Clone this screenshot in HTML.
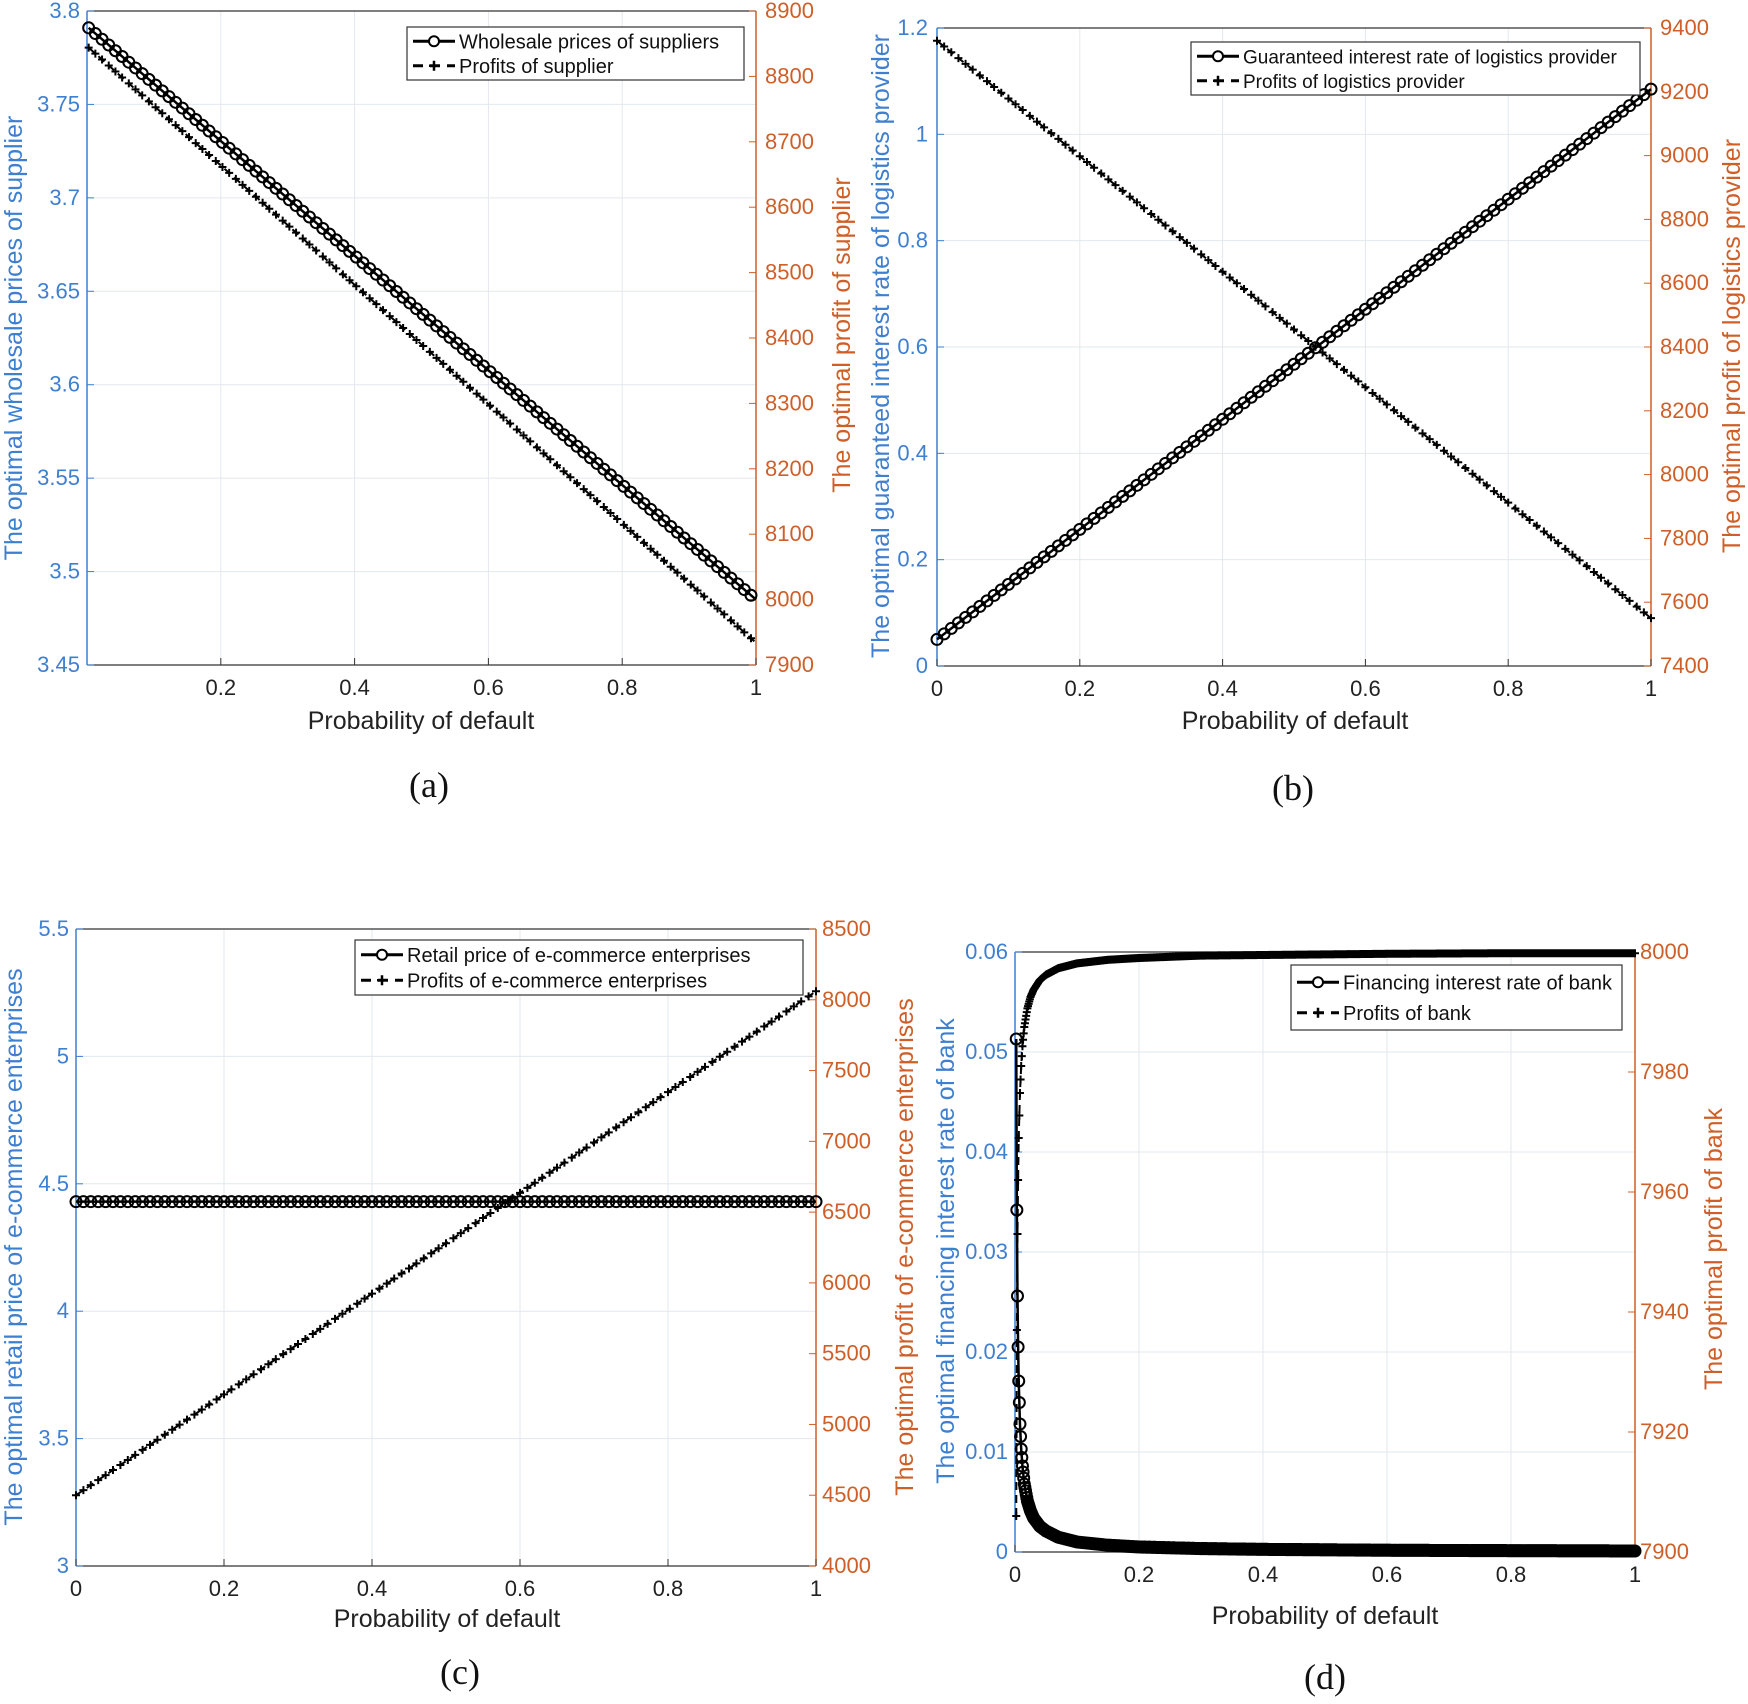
<!DOCTYPE html>
<html><head><meta charset="utf-8"><style>
html,body{margin:0;padding:0;background:#fff;}
svg{display:block;font-family:"Liberation Sans",Arial,sans-serif;}
</style></head><body>
<svg id="fig" width="1748" height="1704" viewBox="0 0 1748 1704" xmlns="http://www.w3.org/2000/svg"></svg>
<script>
// ---- Panel (a) data ----
const aX = [0.0025, 1];
const aWholesale = [3.791, 3.485];
const aProfit = [8844, 7934];
const aLeftTicks = [3.45, 3.5, 3.55, 3.6, 3.65, 3.7, 3.75, 3.8];
const aRightTicks = [7900, 8000, 8100, 8200, 8300, 8400, 8500, 8600, 8700, 8800, 8900];
const aXTicks = [0.2, 0.4, 0.6, 0.8, 1];
// ---- Panel (b) data ----
const bX = [0, 1];
const bRate = [0.05, 1.085];
const bProfit = [9360, 7550];
const bLeftTicks = [0, 0.2, 0.4, 0.6, 0.8, 1, 1.2];
const bRightTicks = [7400, 7600, 7800, 8000, 8200, 8400, 8600, 8800, 9000, 9200, 9400];
const bXTicks = [0, 0.2, 0.4, 0.6, 0.8, 1];
// ---- Panel (c) data ----
const cX = [0, 1];
const cRetail = [4.43, 4.43];
const cProfit = [4500, 8060];
const cLeftTicks = [3, 3.5, 4, 4.5, 5, 5.5];
const cRightTicks = [4000, 4500, 5000, 5500, 6000, 6500, 7000, 7500, 8000, 8500];
const cXTicks = [0, 0.2, 0.4, 0.6, 0.8, 1];
// ---- Panel (d) data ----
const dX = [0.002, 0.003, 0.004, 0.005, 0.006, 0.008, 0.01, 0.012, 0.015, 0.02, 0.025, 0.03, 0.04, 0.05, 0.07, 0.1, 0.15, 0.2, 0.3, 0.4, 0.6, 0.8, 1];
const dRate = [0.0513, 0.0342, 0.0256, 0.0205, 0.0171, 0.0128, 0.0103, 0.0086, 0.0068, 0.0051, 0.0041, 0.0034, 0.00257, 0.0021, 0.00147, 0.001, 0.00068, 0.0005, 0.00034, 0.00026, 0.00017, 0.00013, 0.0001];
const dProfit = [7906, 7937, 7953, 7962, 7969, 7976.5, 7981, 7984.3, 7987.5, 7990.6, 7992.5, 7993.7, 7995.3, 7996.2, 7997.3, 7998.1, 7998.7, 7999, 7999.4, 7999.5, 7999.7, 7999.8, 7999.8];
const dLeftTicks = [0, 0.01, 0.02, 0.03, 0.04, 0.05, 0.06];
const dRightTicks = [7900, 7920, 7940, 7960, 7980, 8000];
const dXTicks = [0, 0.2, 0.4, 0.6, 0.8, 1];

const NS = 'http://www.w3.org/2000/svg';
const svg = document.getElementById('fig');
const BLUE = '#3f7fd0', ORANGE = '#cf5f28';
function mk(tag, attrs, parent) {
  const e = document.createElementNS(NS, tag);
  for (const k in attrs) e.setAttribute(k, attrs[k]);
  (parent || svg).appendChild(e);
  return e;
}
function interp(xs, ys, x) {
  if (x <= xs[0]) return ys[0];
  for (let i = 1; i < xs.length; i++) {
    if (x <= xs[i]) { const t = (x - xs[i-1]) / (xs[i] - xs[i-1]); return ys[i-1] + t * (ys[i] - ys[i-1]); }
  }
  return ys[ys.length - 1];
}
function panel(p) {
  const g = mk('g', {});
  
  
  const L = p.box[0], R = p.box[1], T = p.box[2], B = p.box[3];
  const sx = v => L + (v - p.xlim[0]) / (p.xlim[1] - p.xlim[0]) * (R - L);
  const syL = v => B - (v - p.llim[0]) / (p.llim[1] - p.llim[0]) * (B - T);
  const syR = v => B - (v - p.rlim[0]) / (p.rlim[1] - p.rlim[0]) * (B - T);
  p.xticks.forEach(t => { const l = mk('line', {x1: sx(t), x2: sx(t), y1: T, y2: B, stroke: '#e3e8ee', 'stroke-width': 1}, g);   });
  p.lticks.forEach(t => { const l = mk('line', {x1: L, x2: R, y1: syL(t), y2: syL(t), stroke: '#e3e8ee', 'stroke-width': 1}, g);   });
  mk('line', {x1: L, x2: R, y1: T, y2: T, stroke: '#333', 'stroke-width': 1.2}, g);
  mk('line', {x1: L, x2: R, y1: B, y2: B, stroke: '#333', 'stroke-width': 1.2}, g);
  mk('line', {x1: L, x2: L, y1: T, y2: B, stroke: BLUE, 'stroke-width': 1.5}, g);
  mk('line', {x1: R, x2: R, y1: T, y2: B, stroke: ORANGE, 'stroke-width': 1.5}, g);
  p.xticks.forEach(t => {
    mk('line', {x1: sx(t), x2: sx(t), y1: B, y2: B - 7, stroke: '#333'}, g);
    const tx = mk('text', {x: sx(t), y: B + 30, 'font-size': 22, 'text-anchor': 'middle', fill: '#222'}, g);
    tx.textContent = t;  
  });
  p.lticks.forEach(t => {
    mk('line', {x1: L, x2: L + 7, y1: syL(t), y2: syL(t), stroke: BLUE}, g);
    const tx = mk('text', {x: p.lLabX, y: syL(t) + 7, 'font-size': 22, 'text-anchor': 'end', fill: BLUE}, g);
    tx.textContent = t;  
  });
  p.rticks.forEach(t => {
    mk('line', {x1: R, x2: R - 7, y1: syR(t), y2: syR(t), stroke: ORANGE}, g);
    const tx = mk('text', {x: p.rLabX, y: syR(t) + 7, 'font-size': 22, 'text-anchor': 'start', fill: ORANGE}, g);
    tx.textContent = t;  
  });
  const lt = mk('text', {x: 0, y: 0, 'font-size': 25, 'text-anchor': 'middle', fill: BLUE, transform: `translate(${p.lTitle[0]},${p.lTitle[1]}) rotate(-90)`}, g);
  lt.textContent = p.lTitleText;  
  const rt = mk('text', {x: 0, y: 0, 'font-size': 25, 'text-anchor': 'middle', fill: ORANGE, transform: `translate(${p.rTitle[0]},${p.rTitle[1]}) rotate(-90)`}, g);
  rt.textContent = p.rTitleText;  
  const xt = mk('text', {x: p.xTitle[0], y: p.xTitle[1], 'font-size': 25, 'text-anchor': 'middle', fill: '#222'}, g);
  xt.textContent = 'Probability of default';  
  const pl = mk('text', {x: p.label[0], y: p.label[1], 'font-size': 36, 'text-anchor': 'middle', fill: '#111', 'font-family': '"Liberation Serif", serif'}, g);
  pl.textContent = p.labelText;  
  const pts1 = p.xs.map((x, i) => sx(x) + ',' + syL(p.s1[i])).join(' ');
  const l1 = mk('polyline', {points: pts1, fill: 'none', stroke: '#000', 'stroke-width': 2.5}, g);
   
  const pts2 = p.xs.map((x, i) => sx(x) + ',' + syR(p.s2[i])).join(' ');
  const l2 = mk('polyline', {points: pts2, fill: 'none', stroke: '#000', 'stroke-width': 2, 'stroke-dasharray': '8 5'}, g);
   
  const x0 = p.xs[0], x1 = p.xs[p.xs.length - 1];
  let path1 = '', path2 = '';
  const r = p.r;
  for (let x = x0; x <= x1 + 1e-9; x += p.step) {
    const X = sx(x), Y1 = syL(interp(p.xs, p.s1, x)), Y2 = syR(interp(p.xs, p.s2, x));
    path1 += `M${X - r},${Y1}a${r},${r} 0 1,0 ${2*r},0a${r},${r} 0 1,0 ${-2*r},0`;
    path2 += `M${X - 4},${Y2}h8M${X},${Y2 - 4}v8`;
  }
  const m2 = mk('path', {d: path2, fill: 'none', stroke: '#000', 'stroke-width': 2}, g);
   
  const m1 = mk('path', {d: path1, fill: 'none', stroke: '#000', 'stroke-width': 2}, g);
   
  const [gx1, gx2, gy1, gy2] = p.legend;
  const lg = mk('g', {}, g);
   
  mk('rect', {x: gx1, y: gy1, width: gx2 - gx1, height: gy2 - gy1, fill: '#fff', stroke: '#333', 'stroke-width': 1.2}, lg);
  const rowH = (gy2 - gy1) / 2;
  const ya = gy1 + rowH * 0.5 + 1, yb = gy1 + rowH * 1.5 - 1;
  mk('line', {x1: gx1 + 6, x2: gx1 + 48, y1: ya, y2: ya, stroke: '#000', 'stroke-width': 3}, lg);
  mk('circle', {cx: gx1 + 27, cy: ya, r: 5, fill: '#fff', stroke: '#000', 'stroke-width': 2}, lg);
  mk('line', {x1: gx1 + 6, x2: gx1 + 48, y1: yb, y2: yb, stroke: '#000', 'stroke-width': 3, 'stroke-dasharray': '10 7'}, lg);
  mk('path', {d: `M${gx1 + 22},${yb}h10M${gx1 + 27},${yb - 5}v10`, stroke: '#000', 'stroke-width': 2.5}, lg);
  const e1 = mk('text', {x: gx1 + 52, y: ya + 7, 'font-size': p.legendFs, fill: '#111'}, lg);
  e1.textContent = p.leg1;  
  const e2 = mk('text', {x: gx1 + 52, y: yb + 7, 'font-size': p.legendFs, fill: '#111'}, lg);
  e2.textContent = p.leg2;  
}
panel({name: 'panel-a', box: [87, 756, 11, 665], xlim: [0, 1], llim: [3.45, 3.8], rlim: [7900, 8900],
  xs: aX, s1: aWholesale, s2: aProfit, xticks: aXTicks, lticks: aLeftTicks, rticks: aRightTicks, step: 0.01, r: 5.5,
  lLabX: 80, rLabX: 765, lTitle: [22, 338], rTitle: [850, 335], xTitle: [421, 729], label: [429, 797], labelText: '(a)',
  lTitleText: 'The optimal wholesale prices of supplier', rTitleText: 'The optimal profit of supplier',
  legend: [407, 744, 27, 80], leg1: 'Wholesale prices of suppliers', leg2: 'Profits of supplier', legendFs: 20});
panel({name: 'panel-b', box: [937, 1651, 28, 666], xlim: [0, 1], llim: [0, 1.2], rlim: [7400, 9400],
  xs: bX, s1: bRate, s2: bProfit, xticks: bXTicks, lticks: bLeftTicks, rticks: bRightTicks, step: 0.01, r: 5.5,
  lLabX: 928, rLabX: 1660, lTitle: [889, 346], rTitle: [1740, 346], xTitle: [1295, 729], label: [1293, 800], labelText: '(b)',
  lTitleText: 'The optimal guaranteed interest rate of logistics provider', rTitleText: 'The optimal profit of logistics provider',
  legend: [1191, 1640, 42, 95], leg1: 'Guaranteed interest rate of logistics provider', leg2: 'Profits of logistics provider', legendFs: 19});
panel({name: 'panel-c', box: [76, 816, 929, 1566], xlim: [0, 1], llim: [3, 5.5], rlim: [4000, 8500],
  xs: cX, s1: cRetail, s2: cProfit, xticks: cXTicks, lticks: cLeftTicks, rticks: cRightTicks, step: 0.01, r: 5.5,
  lLabX: 69, rLabX: 822, lTitle: [22, 1247], rTitle: [913, 1247], xTitle: [447, 1627], label: [460, 1684], labelText: '(c)',
  lTitleText: 'The optimal retail price of e-commerce enterprises', rTitleText: 'The optimal profit of e-commerce enterprises',
  legend: [355, 803, 940, 995], leg1: 'Retail price of e-commerce enterprises', leg2: 'Profits of e-commerce enterprises', legendFs: 20});
panel({name: 'panel-d', box: [1015, 1635, 952, 1552], xlim: [0, 1], llim: [0, 0.06], rlim: [7900, 8000],
  xs: dX, s1: dRate, s2: dProfit, xticks: dXTicks, lticks: dLeftTicks, rticks: dRightTicks, step: 0.001, r: 5.5,
  lLabX: 1008, rLabX: 1640, lTitle: [954, 1251], rTitle: [1722, 1249], xTitle: [1325, 1624], label: [1325, 1689], labelText: '(d)',
  lTitleText: 'The optimal financing interest rate of bank', rTitleText: 'The optimal profit of bank',
  legend: [1291, 1622, 965, 1030], leg1: 'Financing interest rate of bank', leg2: 'Profits of bank', legendFs: 20});
</script>
</body></html>
